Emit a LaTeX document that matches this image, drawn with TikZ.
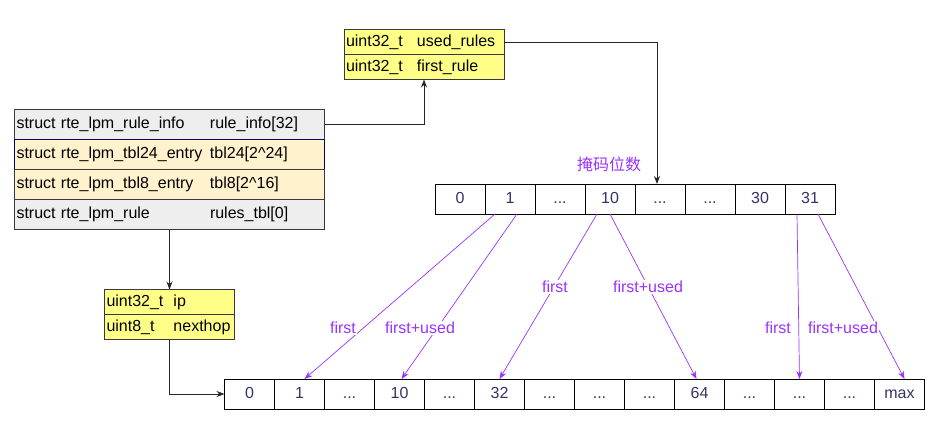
\documentclass[tikz,border=0pt]{standalone}
\usepackage{fontspec}
\setmainfont{Liberation Sans}
\newfontfamily\cjk{Noto Sans CJK SC}
\usetikzlibrary{arrows.meta, positioning}

\definecolor{rowgray}{HTML}{EEEEEE}
\definecolor{rowtan}{HTML}{FFF2CC}
\definecolor{noteyellow}{HTML}{FFFF88}
\definecolor{edgegray}{HTML}{36393D}
\definecolor{maskpurple}{HTML}{9933FF}
\definecolor{cellink}{HTML}{333366}

\begin{document}
\begin{tikzpicture}[x=1pt, y=-1pt,
        row/.style={draw=edgegray, anchor=north west, minimum height=30pt, text width=306pt, inner xsep=2pt, inner ysep=0pt, outer sep=0pt, align=left, font=\fontsize{16}{18}\selectfont},
        field/.style={draw=edgegray, fill=noteyellow, anchor=north west, minimum height=25pt, inner xsep=2pt, inner ysep=0pt, outer sep=0pt, align=left, font=\fontsize{16}{18}\selectfont},
        cell/.style={draw=black, minimum width=50pt, minimum height=30pt, inner sep=0pt, outer sep=0pt, text height=11.5pt, text depth=3.5pt, text=cellink, font=\fontsize{16}{18}\selectfont},
        link/.style={-{Stealth[length=8pt, width=6pt]}, line width=0.8pt, draw=black!85},
        parrow/.style={-{Stealth[length=8pt, width=6pt]}, line width=0.7pt, draw=maskpurple},
        plabel/.style={fill=white, inner sep=1pt, text=maskpurple, font=\fontsize{16}{18}\selectfont}
    ]
        \useasboundingbox (0,0) rectangle (945,434);

        % lpm struct
        \node[row, fill=rowgray] (r1) at (14.5,109.5) {\makebox[193.5pt][l]{struct rte\_lpm\_rule\_info}rule\_info[32]};
        \node[row, fill=rowtan, draw=blue!40!black, below=0pt of r1] (r2) {\makebox[193.5pt][l]{struct rte\_lpm\_tbl24\_entry}tbl24[2\textasciicircum 24]};
        \node[row, fill=rowtan, below=0pt of r2] (r3) {\makebox[193.5pt][l]{struct rte\_lpm\_tbl8\_entry}tbl8[2\textasciicircum 16]};
        \node[row, fill=rowgray, below=0pt of r3] (r4) {\makebox[193.5pt][l]{struct rte\_lpm\_rule}rules\_tbl[0]};

        % rule_info
        \node[field, text width=156pt] (ur) at (344,29.5) {\makebox[71pt][l]{uint32\_t}used\_rules};
        \node[field, text width=156pt, below=0pt of ur] (fr) {\makebox[71pt][l]{uint32\_t}first\_rule};

        % rule
        \node[field, text width=126pt] (ip) at (104.5,289.5) {\makebox[67pt][l]{uint32\_t}ip};
        \node[field, text width=126pt, below=0pt of ip] (nh) {\makebox[67pt][l]{uint8\_t}nexthop};

        % depth array
        \node[cell, anchor=north west] (t0) at (435,184) {0};
        \node[cell, right=0pt of t0] (t1) {1};
        \node[cell, right=0pt of t1] (t2) {...};
        \node[cell, right=0pt of t2] (t3) {10};
        \node[cell, right=0pt of t3] (t4) {...};
        \node[cell, right=0pt of t4] (t5) {...};
        \node[cell, right=0pt of t5] (t6) {30};
        \node[cell, right=0pt of t6] (t7) {31};
        \node[text=maskpurple, font=\cjk\fontsize{16}{18}\selectfont] (mask) at (609,164) {掩码位数};

        % rules_tbl
        \node[cell, anchor=north west] (b0) at (224.5,379) {0};
        \node[cell, right=0pt of b0] (b1) {1};
        \node[cell, right=0pt of b1] (b2) {...};
        \node[cell, right=0pt of b2] (b3) {10};
        \node[cell, right=0pt of b3] (b4) {...};
        \node[cell, right=0pt of b4] (b5) {32};
        \node[cell, right=0pt of b5] (b6) {...};
        \node[cell, right=0pt of b6] (b7) {...};
        \node[cell, right=0pt of b7] (b8) {...};
        \node[cell, right=0pt of b8] (b9) {64};
        \node[cell, right=0pt of b9] (b10) {...};
        \node[cell, right=0pt of b10] (b11) {...};
        \node[cell, right=0pt of b11] (b12) {...};
        \node[cell, right=0pt of b12] (b13) {max};

        % pointers
        \draw[link] (r1.east) -| (fr.south);
        \draw[link] (ur.east) -| ([xshift=-3pt]t4.north);
        \draw[link] (r4.south) -- (ip.north);
        \draw[link] (nh.south) |- (b0.west);

        % first / first+used
        \draw[parrow] ([xshift=10pt]t1.south west) -- ([xshift=30pt]b1.north west);
        \draw[parrow] ([xshift=32pt]t1.south west) -- ([xshift=27pt]b3.north west);
        \draw[parrow] ([xshift=12pt]t3.south west) -- (b5.north);
        \draw[parrow] (t3.south) -- ([xshift=22pt]b9.north west);
        \draw[parrow] ([xshift=12pt]t7.south west) -- (b11.north);
        \draw[parrow] ([xshift=33pt]t7.south west) -- ([xshift=30pt]b13.north west);

        \node[plabel] (l1) at (343,328) {first};
        \node[plabel] (l2) at (420,328) {first+used};
        \node[plabel] (l3) at (555,287) {first};
        \node[plabel] (l4) at (648,287) {first+used};
        \node[plabel] (l5) at (778,328) {first};
        \node[plabel] (l6) at (843,328) {first+used};

    \end{tikzpicture}
\end{document}
